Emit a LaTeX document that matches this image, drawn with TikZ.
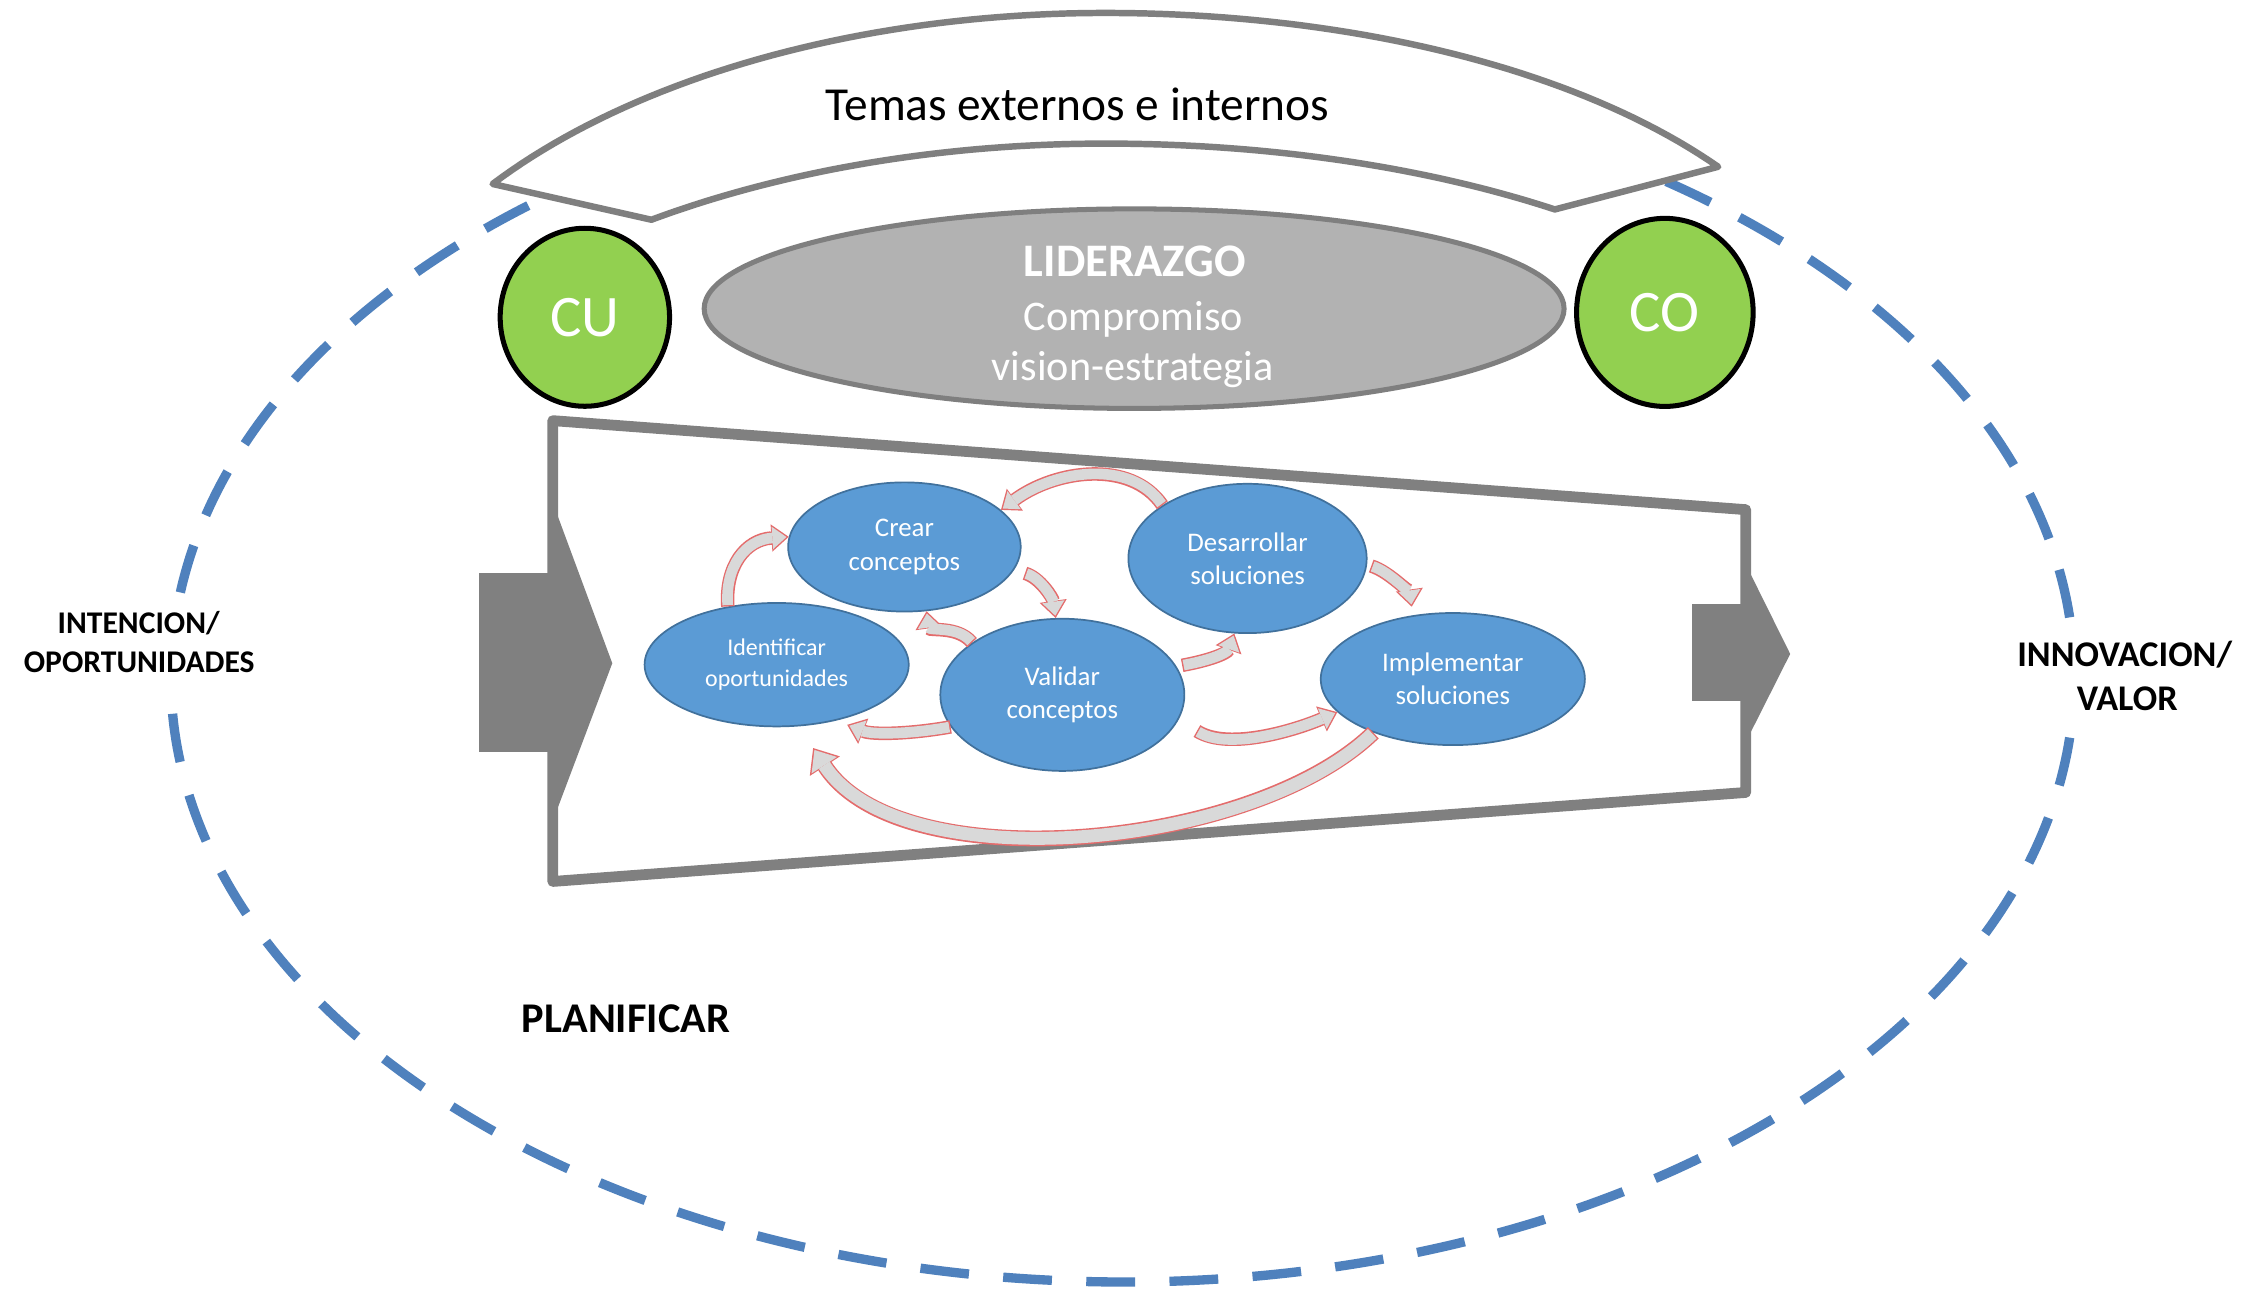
\documentclass[tikz,border=0pt]{standalone}
\usepackage{fontspec}
\setmainfont{Carlito}
\usetikzlibrary{shapes.geometric,arrows.meta}
\definecolor{dashblue}{HTML}{4F81BD}
\definecolor{framegray}{HTML}{808080}
\definecolor{leadgray}{HTML}{B2B2B2}
\definecolor{leadline}{HTML}{7F7F7F}
\definecolor{cgreen}{HTML}{92D050}
\definecolor{pblue}{HTML}{5B9BD5}
\definecolor{pblueline}{HTML}{41719C}
\definecolor{arrowred}{HTML}{E46C6C}
\definecolor{arrowgray}{HTML}{D9D9D9}
\newcommand{\flowarrow}[4]{%
  \draw[#1red, shorten <=#2pt, shorten >=#3pt] #4;
  \draw[#1gray, shorten <=#2pt+1pt, shorten >=#3pt+1.6pt] #4;}
\tikzset{
  cycleline/.style={dashblue, line width=6.5pt},
  procnode/.style={ellipse, draw=pblueline, line width=1.2pt, fill=pblue, text=white,
    inner sep=0pt, align=center, font=\fontsize{18.7}{23.2}\selectfont},
  greennode/.style={ellipse, draw=black, line width=3.5pt, fill=cgreen, text=white,
    inner sep=0pt, font=\fontsize{41}{41}\selectfont},
  leadtext/.style={anchor=base, inner sep=0pt, text=white, font=\fontsize{29.4}{29.4}\selectfont},
  lblS/.style={anchor=base, inner sep=0pt, font=\bfseries\fontsize{22}{22}\selectfont},
  lblM/.style={anchor=base, inner sep=0pt, font=\bfseries\fontsize{25.2}{25.2}\selectfont},
  lblL/.style={anchor=base, inner sep=0pt, font=\bfseries\fontsize{29.5}{29.5}\selectfont},
  smallred/.style={draw=arrowred, line width=9.4pt,
    -{Triangle[length=12pt,width=19pt,line width=0pt]}},
  smallgray/.style={draw=arrowgray, line width=7.4pt,
    -{Triangle[length=9.8pt,width=15.6pt,line width=0pt]}},
  bigred/.style={draw=arrowred, line width=11pt,
    -{Triangle[length=15pt,width=25pt,line width=0pt]}},
  biggray/.style={draw=arrowgray, line width=9pt,
    -{Triangle[length=12.6pt,width=21pt,line width=0pt]}},
}
\begin{document}
\begin{tikzpicture}[x=1pt,y=-1pt]
\useasboundingbox (0,0) rectangle (1568,905);
\fill[white] (0,0) rectangle (1568,905);

% dashed cycle (open where the side labels sit)
\draw[cycleline, dash pattern=on 34pt off 23.96pt] (782,472) ++(5.7:663 and 421)
  arc[start angle=5.7, end angle=176.6, x radius=663, y radius=421];
\draw[cycleline, dash pattern=on 34pt off 22.72pt] (782,472) ++(188.1:663 and 421)
  arc[start angle=188.1, end angle=354.3, x radius=663, y radius=421];

% arc banner
\draw[leadline, line width=4.5pt, line join=round, fill=white]
  plot[domain=36.2:143.8, samples=90]
    ({770-529*cos(\x)},{300-291*sin(\x)-18.4*(max(0,-cos(\x)))^2})
  -- plot[domain=55.8:124.6, samples=90]
    ({770+557*cos(\x)},{400-300*sin(\x)-19*(max(0,cos(\x)))^2})
  -- cycle;
\node[anchor=base, inner sep=0pt, font=\fontsize{33}{33}\selectfont] (temas)
  at (750.5,83.6) {Temas externos e internos};

% leadership ellipse
\node[ellipse, draw=leadline, line width=3.5pt, fill=leadgray, inner sep=0pt,
  minimum width=599pt, minimum height=139pt] (lead) at (790,215) {};
\node[leadtext, font=\bfseries\fontsize{32.5}{32.5}\selectfont] (leadA) at (790.5,192.3) {LIDERAZGO};
\node[leadtext] (leadB) at (789.5,230) {Compromiso};
\node[leadtext] (leadC) at (789,264.7) {vision-estrategia};

% green circles
\node[greennode, minimum width=118pt, minimum height=124pt] (cu) at (407.4,221) {CU};
\node[greennode, minimum width=123pt, minimum height=131pt] (co) at (1159.7,217.6) {CO};

% process frame
\draw[framegray, line width=7.5pt, line join=round, fill=white]
  (385,293) -- (1216,355) -- (1216,552) -- (385,614) -- cycle;
\fill[framegray] (334,399) rectangle (385,523.5);
\fill[framegray] (385,350) -- (426.5,462) -- (385,572) -- cycle;
\fill[framegray] (1178.6,420.5) rectangle (1216,488.6);
\fill[framegray] (1216,393) -- (1247,455.5) -- (1216,517) -- cycle;

% process ellipses
\node[procnode, minimum width=162pt, minimum height=90pt] (crear) at (630,381) {Crear\\conceptos};
\node[procnode, minimum width=166pt, minimum height=104pt] (desa) at (869,389) {Desarrollar\\soluciones};
\node[procnode, minimum width=184pt, minimum height=86pt,
  font=\fontsize{16.7}{21.4}\selectfont] (ident) at (541,463) {Identificar\\oportunidades};
\node[procnode, minimum width=170pt, minimum height=106pt] (valid) at (740,484) {Validar\\conceptos};
\node[procnode, minimum width=184pt, minimum height=92pt] (impl) at (1012,473) {Implementar\\soluciones};

% curved arrows
\flowarrow{small}{0}{0}{(ident.130) .. controls +(-2,-28) and +(-30,2) .. (crear.175)}
\flowarrow{small}{8}{0}{(crear.-12) .. controls +(18,5) and +(-2,-14) .. (valid.95)}
\flowarrow{small}{0}{0}{(valid.150) .. controls +(-10,-12) and +(2,14) .. (crear.-71)}
\flowarrow{small}{0}{0}{(desa.148) .. controls +(-22,-32) and +(38,-28) .. (crear.21)}
\flowarrow{small}{4}{0}{(valid.14) .. controls +(22,-4) and +(-5,14) .. (desa.-100)}
\flowarrow{small}{3}{6}{(desa.-3) .. controls +(16,5) and +(-2,-14) .. (impl.122)}
\flowarrow{small}{15}{0}{(valid.-12) .. controls +(35,22) and +(-28,12) .. (impl.-164)}
\flowarrow{small}{0}{8}{(valid.-164) .. controls +(-28,5) and +(25,10) .. (ident.-43)}
\flowarrow{big}{0}{18}{(impl.-146) .. controls +(-85,82) and +(70,108) .. (ident.-70)}

% labels
\node[lblS] (intA) at (96.6,441.2) {INTENCION/};
\node[lblS] (intB) at (97,468.6) {OPORTUNIDADES};
\node[lblM] (innA) at (1480,464) {INNOVACION/};
\node[lblM] (innB) at (1481.8,494.6) {VALOR};
\node[lblL] (plan) at (436,719) {PLANIFICAR};
\end{tikzpicture}
\end{document}
